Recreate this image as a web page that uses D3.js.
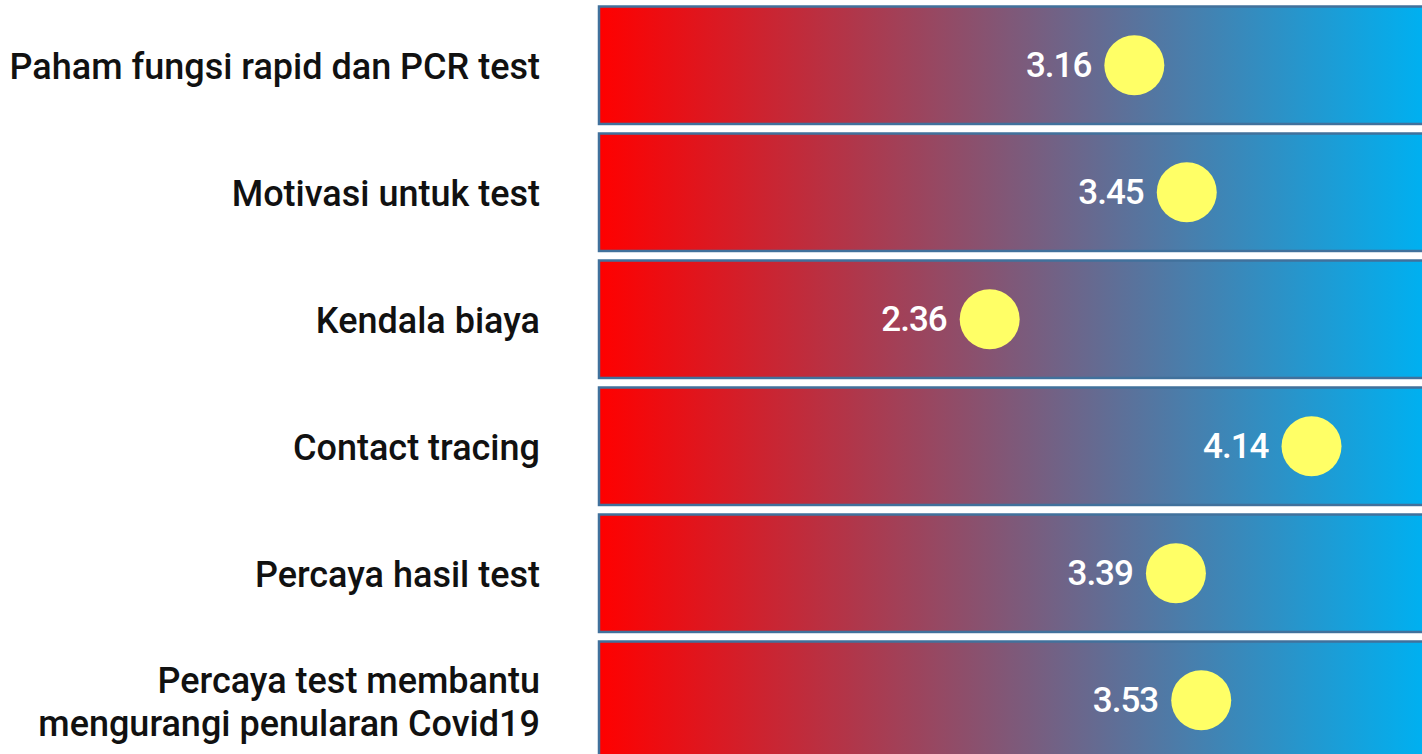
<!DOCTYPE html>
<html>
<head>
<meta charset="utf-8">
<script src="https://cdn.jsdelivr.net/npm/d3@7"></script>
<style>
  html, body { margin: 0; padding: 0; background: #ffffff; }
  svg { display: block; }
</style>
</head>
<body>
<svg id="chart" width="1422" height="754"></svg>
<script>
// Survey items (top to bottom) and their mean scores
const categories = [
  ["Paham fungsi rapid dan PCR test"],
  ["Motivasi untuk test"],
  ["Kendala biaya"],
  ["Contact tracing"],
  ["Percaya hasil test"],
  ["Percaya test membantu", "mengurangi penularan Covid19"]
];
const scores = [3.16, 3.45, 2.36, 4.14, 3.39, 3.53];
const scoreDomain = [0, 5];

const svg = d3.select("#chart");

const barLeft = 599, barRight = 1440;
const labelRight = 540;
const rowStep = 127, rowPad = 0.075;

const y = d3.scaleBand()
  .domain(d3.range(categories.length))
  .range([6.5, 6.5 + rowStep * (categories.length - rowPad)])
  .paddingInner(rowPad)
  .paddingOuter(0);

const x = d3.scaleLinear().domain(scoreDomain).range([563, 1467]);

// red -> blue background gradient shared by all bars
const defs = svg.append("defs");
const grad = defs.append("linearGradient")
  .attr("id", "scoreGrad")
  .attr("gradientUnits", "userSpaceOnUse")
  .attr("x1", barLeft).attr("x2", 1422).attr("y1", 0).attr("y2", 0);
grad.append("stop").attr("offset", "0%").attr("stop-color", "#ff0000");
grad.append("stop").attr("offset", "100%").attr("stop-color", "#00b0f0");

const rows = svg.selectAll("g.row")
  .data(categories.map((c, i) => ({ label: c, value: scores[i], i })))
  .join("g")
  .attr("class", "row");

rows.append("rect")
  .attr("x", barLeft)
  .attr("y", d => y(d.i))
  .attr("width", barRight - barLeft)
  .attr("height", y.bandwidth())
  .attr("fill", "url(#scoreGrad)")
  .attr("stroke", "#41719c")
  .attr("stroke-width", 2.5);

rows.append("circle")
  .attr("cx", d => x(d.value))
  .attr("cy", d => y(d.i) + y.bandwidth() / 2)
  .attr("r", 30)
  .attr("fill", "#ffff66");

rows.append("text")
  .attr("x", d => x(d.value) - 43)
  .attr("y", d => y(d.i) + y.bandwidth() / 2)
  .attr("dy", "0.35em")
  .attr("text-anchor", "end")
  .attr("fill", "#ffffff")
  .attr("font-family", "Roboto, sans-serif")
  .attr("font-weight", 500)
  .attr("font-size", 35)
  .attr("letter-spacing", -1)
  .text(d => d.value.toFixed(2));

// category labels, right aligned against the bars
const lineGap = 43;
rows.append("text")
  .attr("text-anchor", "end")
  .attr("fill", "#111111")
  .attr("font-family", "Roboto, sans-serif")
  .attr("font-weight", 500)
  .attr("font-size", 36)
  .each(function(d) {
    const cy = y(d.i) + y.bandwidth() / 2 + 1;
    const n = d.label.length;
    d3.select(this).selectAll("tspan")
      .data(d.label)
      .join("tspan")
      .attr("x", labelRight)
      .attr("y", (t, k) => cy + (k - (n - 1) / 2) * lineGap)
      .attr("dy", "0.36em")
      .text(t => t);
  });
</script>
</body>
</html>
